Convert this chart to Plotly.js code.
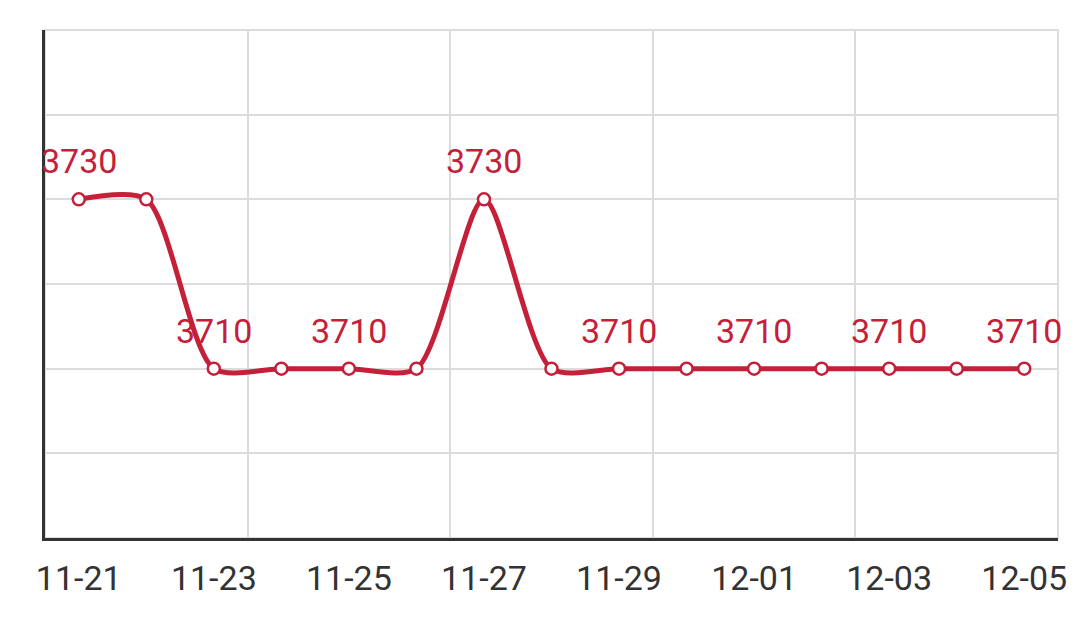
<!DOCTYPE html>
<html>
<head>
<meta charset="utf-8">
<script src="https://cdn.plot.ly/plotly-3.0.1.min.js"></script>
<style>
  html, body { margin: 0; padding: 0; background: #fff; }
  #chart { width: 1078px; height: 624px; }
</style>
</head>
<body>
<div id="chart"></div>
<script>
// daily values
var days = ['11-21','11-22','11-23','11-24','11-25','11-26','11-27','11-28',
            '11-29','11-30','12-01','12-02','12-03','12-04','12-05'];
var values = [3730, 3730, 3710, 3710, 3710, 3710, 3730, 3710,
              3710, 3710, 3710, 3710, 3710, 3710, 3710];
var shownTicks = ['11-21','11-23','11-25','11-27','11-29','12-01','12-03','12-05'];

var red = '#c4203a';
var gridColor = '#dcdcdc';

var trace = {
  x: days,
  y: values,
  mode: 'lines+markers',
  line: { color: red, width: 5, shape: 'spline', smoothing: 0.75 },
  marker: { size: 12, color: '#fff', line: { color: red, width: 2.5 } },
  cliponaxis: false,
  hoverinfo: 'none'
};

// invisible copy on x2, only so the 3-day vertical grid gets drawn
var gridTrace = {
  x: days.map(function(d, i) { return i; }),
  y: values,
  xaxis: 'x2',
  mode: 'lines',
  opacity: 0,
  line: { width: 0 },
  hoverinfo: 'none'
};

// label every other point
var annotations = [];
for (var i = 0; i < days.length; i += 2) {
  annotations.push({
    x: days[i], y: values[i],
    text: String(values[i]),
    showarrow: false,
    yanchor: 'bottom',
    yshift: 16,
    font: { family: 'Roboto', size: 34, color: red }
  });
}

var layout = {
  width: 1078,
  height: 624,
  margin: { l: 45, r: 20, t: 30, b: 86 },
  paper_bgcolor: '#fff',
  plot_bgcolor: '#fff',
  showlegend: false,
  font: { family: 'Roboto', color: '#333' },
  annotations: annotations,
  // top and right edges of the grid
  shapes: [{
    type: 'rect', xref: 'paper', yref: 'paper',
    x0: 0, x1: 1, y0: 0, y1: 1,
    line: { color: gridColor, width: 2 },
    layer: 'below'
  }],
  xaxis: {
    type: 'category',
    range: [-0.5, days.length - 0.5],
    tickmode: 'array',
    tickvals: shownTicks,
    ticktext: shownTicks,
    tickfont: { size: 34, color: '#333' },
    showgrid: false,
    zeroline: false,
    showline: true,
    linecolor: '#333',
    linewidth: 3,
    ticks: '',
    ticklabelstandoff: 8
  },
  xaxis2: {
    overlaying: 'x',
    anchor: 'y',
    range: [-0.5, days.length - 0.5],
    tickmode: 'linear',
    tick0: -0.5,
    dtick: 3,
    showgrid: true,
    gridcolor: gridColor,
    gridwidth: 2,
    showticklabels: false,
    zeroline: false,
    showline: false,
    ticks: ''
  },
  yaxis: {
    range: [3690, 3750],
    tickmode: 'linear',
    tick0: 3690,
    dtick: 10,
    showgrid: true,
    gridcolor: gridColor,
    gridwidth: 2,
    showticklabels: false,
    zeroline: false,
    showline: true,
    linecolor: '#333',
    linewidth: 3,
    ticks: ''
  }
};

Plotly.newPlot('chart', [gridTrace, trace], layout, { displayModeBar: false, staticPlot: true });
</script>
</body>
</html>
